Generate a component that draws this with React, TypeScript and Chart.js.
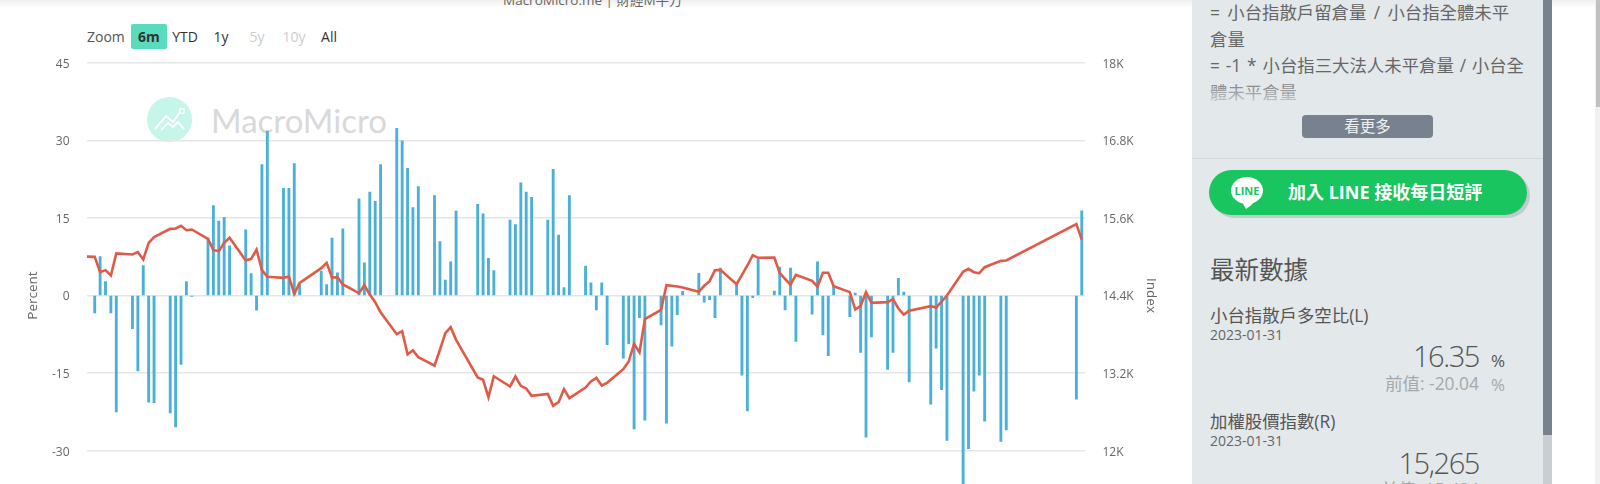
import React, { useEffect, useRef } from "react";
import { Chart, registerables } from "chart.js";

Chart.register(...registerables);

// Calendar days counted from 2022-07-31; last is 2023-01-31.
const barDays = [1,2,3,4,5,8,9,10,11,12,15,16,17,18,19,22,23,24,25,26,29,30,31,32,33,36,37,38,39,43,44,45,46,47,50,51,52,53,54,57,58,59,60,61,64,65,66,67,68,72,73,74,75,78,79,80,81,82,85,86,87,88,89,92,93,94,95,96,99,100,101,102,103,106,107,108,109,110,113,114,115,116,117,120,121,122,123,124,127,128,129,130,131,134,135,136,137,138,141,142,143,144,145,148,149,150,151,152,156,157,158,159,162,163,164,165,166,169,170,183,184];
const ratioPercent = [-3.35,7.5,2.7,-3.35,-22.5,-6.4,-14.6,5.8,-20.6,-20.7,-22.7,-25.4,-13.3,2.7,-0.2,11.1,17.4,14.4,15.1,9.6,12.7,4.25,-2.85,25.3,31.8,20.7,20.7,25.5,2.1,4.7,2.1,11.1,4.4,12.9,18.7,6.3,20,18.2,25.3,32.3,29.9,24.6,17,21.05,19.3,10.4,3,6.5,16.3,17.6,15.8,7.2,4.8,14.6,13.7,21.8,20,19,14.6,24.4,11.7,1.55,19.3,5.7,2.45,-2.8,2.45,-9.5,-12.1,-9.3,-25.8,-4.3,-24.1,-5.7,-24.7,-9.8,-3.7,0.8,4.3,-1.3,-0.8,-4.3,5.3,2.05,-15.4,-22.3,-0.4,7,0.85,5.5,-2.8,5.3,-8.9,-3.6,6.5,-7.6,-11.65,1.9,-4.1,0.45,-11,-27.4,-8,-14.3,-11,3.3,0.65,-16.7,-21,-10.2,-18.2,-28,-37,-29.6,-18.5,-15.4,-24.3,-28.2,-26,-20.04,16.35];

const lineDays = [-2,1,2,3,4,5,8,9,10,11,12,15,16,17,18,19,22,23,24,25,26,29,30,31,32,33,36,37,38,39,43,44,45,46,47,50,51,52,53,54,57,58,59,60,61,64,65,66,67,68,72,73,74,75,78,79,80,81,82,85,86,87,88,89,92,93,94,95,96,99,100,101,102,103,106,107,108,109,110,113,114,115,116,117,120,121,122,123,124,127,128,129,130,131,134,135,136,137,138,141,142,143,144,145,148,149,150,151,152,156,157,158,159,162,163,164,165,166,169,170,183,184];
const taiexIndex = [15003,14998,14761,14792,14710,15050,15034,15070,14957,15214,15302,15431,15436,15477,15410,15421,15276,15101,15086,15214,15292,14941,14967,15111,14792,14689,14673,14694,14426,14596,14823,14905,14678,14684,14570,14436,14560,14415,14297,14142,13802,13848,13490,13552,13446,13317,13560,13817,13910,13714,13132,13096,12828,13152,12993,13147,13003,12962,12848,12879,12694,12750,12951,12812,12977,13070,13127,13008,13049,13261,13379,13653,13519,14034,14178,14560,14550,14540,14524,14457,14550,14622,14792,14797,14575,14720,14864,15024,14983,14988,14750,14655,14568,14720,14627,14539,14751,14751,14544,14452,14183,14240,14452,14287,14297,14343,14199,14106,14163,14235,14214,14307,14400,14766,14812,14761,14745,14838,14936,14941,15503,15265];

const leftTicks = [45, 30, 15, 0, -15, -30, -45];
const rightTicks = ["18K", "16.8K", "15.6K", "14.4K", "13.2K", "12K", "10.8K"];
const rangeButtons = [
  { label: "6m", x: 131, w: 36, active: true, off: false },
  { label: "YTD", x: 168, w: 34, active: false, off: false },
  { label: "1y", x: 207, w: 28, active: false, off: false },
  { label: "5y", x: 243, w: 28, active: false, off: true },
  { label: "10y", x: 279, w: 30, active: false, off: true },
  { label: "All", x: 315, w: 28, active: false, off: false },
];

const SANS = '"Open Sans", "Noto Sans CJK TC", sans-serif';

function T({ x, y, size, color, children, weight, right, spacing, word, family }: any) {
  const style: React.CSSProperties = {
    position: "absolute",
    top: y,
    fontSize: size,
    lineHeight: "1",
    transform: "translateY(-50%)",
    color,
    fontFamily: family ?? SANS,
    fontWeight: weight ?? 400,
    whiteSpace: "nowrap",
    letterSpacing: spacing,
    wordSpacing: word,
  };
  if (right !== undefined) style.right = 1600 - right;
  else style.left = x;
  return <div style={style}>{children}</div>;
}

export default function App() {
  const ref = useRef<HTMLCanvasElement | null>(null);
  useEffect(() => {
    document.body.style.margin = "0";
    document.body.style.overflow = "hidden";
    const chart = new Chart(ref.current!, {
      type: "bar",
      data: {
        datasets: [
          {
            type: "line",
            label: "加權股價指數(R)",
            data: lineDays.map((d, i) => ({ x: d, y: taiexIndex[i] })),
            yAxisID: "yR",
            borderColor: "#e05a47",
            borderWidth: 2.6,
            pointRadius: 0,
            tension: 0,
            order: 0,
          } as any,
          {
            type: "bar",
            label: "小台指散戶多空比(L)",
            data: barDays.map((d, i) => ({ x: d, y: ratioPercent[i] })),
            yAxisID: "yL",
            backgroundColor: "#4bb0d8",
            barThickness: 2.2,
            order: 1,
          } as any,
        ],
      },
      options: {
        responsive: false,
        animation: false,
        events: [],
        layout: { padding: { top: 62.7, bottom: 31.7 } },
        plugins: { legend: { display: false }, tooltip: { enabled: false } },
        scales: {
          x: { type: "linear", min: -0.43, max: 184.6, display: false, offset: false },
          yL: {
            position: "left",
            min: -45,
            max: 45,
            afterFit: (s: any) => { s.width = 87; },
            afterBuildTicks: (s: any) => { s.ticks = leftTicks.map((v) => ({ value: v })); },
            grid: { color: "#e6e6e6", lineWidth: 1.4, drawTicks: false },
            border: { display: false },
            ticks: { padding: 17.5, labelOffset: 1.5, color: "#666666", font: { family: SANS, size: 12 } },
            title: { display: true, text: "Percent", color: "#666666", font: { family: SANS, size: 13.5 }, padding: { top: 25, bottom: 0 } },
          },
          yR: {
            position: "right",
            min: 10800,
            max: 18000,
            afterFit: (s: any) => { s.width = 105; },
            afterBuildTicks: (s: any) => {
              s.ticks = rightTicks.map((_, i) => ({ value: 18000 - 1200 * i }));
            },
            grid: { display: false, drawTicks: false },
            border: { display: false },
            ticks: {
              padding: 17.5,
              labelOffset: 1.5,
              color: "#666666",
              font: { family: SANS, size: 12 },
              callback: (_v: any, i: number) => rightTicks[i],
            },
            title: { display: true, text: "Index", color: "#666666", font: { family: SANS, size: 13.5 }, padding: { top: 31, bottom: 0 } },
          },
        },
      } as any,
    });
    return () => chart.destroy();
  }, []);

  return (
    <div style={{ position: "fixed", left: 0, top: 0, width: 1600, height: 484, overflow: "hidden", background: "#fff" }}>
      {/* top shadow and clipped subtitle */}
      <div style={{ position: "absolute", left: 0, top: 0, width: 1600, height: 8, background: "linear-gradient(#efefef, #ffffff)" }} />
      <T x={503} y={1} size={13.5} color="#666">MacroMicro.me | 財經M平方</T>

      {/* watermark */}
      <svg style={{ position: "absolute", left: 147, top: 97 }} width="45" height="45" viewBox="0 0 45 45">
        <circle cx="22.5" cy="22.5" r="22.5" fill="#c6f5e9" />
        <path d="M8 32 L19 19 L26 25 L33 15 M14 33 L21 26 L26 30 L31 25 L37 32" fill="none" stroke="#fff" strokeWidth="2" />
        <circle cx="35" cy="14" r="2.4" fill="none" stroke="#fff" strokeWidth="1.5" />
      </svg>
      <T x={211} y={120} size={33} color="#d9d9d9" family="Lato">MacroMicro</T>

      {/* range selector */}
      <T x={87} y={37} size={14} color="#555">Zoom</T>
      {rangeButtons.map((b) => (
        <div
          key={b.label}
          style={{
            position: "absolute",
            left: b.x,
            top: 24,
            width: b.w,
            height: 25,
            lineHeight: "25px",
            textAlign: "center",
            fontFamily: SANS,
            fontSize: 14,
            fontWeight: b.active ? 700 : 400,
            borderRadius: 2,
            background: b.active ? "#59dcbd" : "transparent",
            color: b.off ? "#cccccc" : "#333333",
          }}
        >
          {b.label}
        </div>
      ))}

      <canvas ref={ref} width={1190} height={560} style={{ position: "absolute", left: 0, top: 0 }} />

      {/* side panel */}
      <div style={{ position: "absolute", left: 1192, top: 0, width: 351, height: 484, background: "#e3e8eb" }} />
      <T x={1210} y={13} size={17.4} color="#666" word={2.8}>= 小台指散戶留倉量 / 小台指全體未平</T>
      <T x={1210} y={40} size={17.4} color="#666">倉量</T>
      <T x={1210} y={66} size={17.4} color="#666" word={1.3}>= -1 * 小台指三大法人未平倉量 / 小台全</T>
      <T x={1210} y={93} size={17.4} color="#666">體未平倉量</T>
      <div style={{ position: "absolute", left: 1192, top: 76, width: 351, height: 30, background: "linear-gradient(rgba(227,232,235,0), rgba(227,232,235,0.85))" }} />
      <div style={{ position: "absolute", left: 1302, top: 115, width: 131, height: 23, background: "#78828e", borderRadius: 4, color: "#eef0f2", fontFamily: SANS, fontSize: 15.5, lineHeight: "23px", textAlign: "center" }}>看更多</div>
      <div style={{ position: "absolute", left: 1192, top: 158, width: 351, height: 1, background: "#d4d9dc" }} />
      <div style={{ position: "absolute", left: 1209, top: 170, width: 318, height: 45, background: "#19c55e", borderRadius: 23, boxShadow: "3px 3px 0 #c3c9cd" }} />
      <svg style={{ position: "absolute", left: 1230, top: 176 }} width="34" height="34" viewBox="0 0 34 34">
        <ellipse cx="17" cy="14.5" rx="16" ry="13.5" fill="#fff" />
        <path d="M12 26 L16 33 Q21 30 25 25 Z" fill="#fff" />
        <text x="17" y="18.5" textAnchor="middle" fontFamily="Open Sans" fontSize="11" fontWeight="700" fill="#19c55e">LINE</text>
      </svg>
      <T x={1288} y={192} size={18} color="#fff" weight={700}>加入 LINE 接收每日短評</T>
      <T x={1210} y={270} size={24.5} color="#555">最新數據</T>
      <T x={1210} y={316} size={17.4} color="#555">小台指散戶多空比(L)</T>
      <T x={1210} y={335} size={14} color="#666">2023-01-31</T>
      <T right={1479} y={355} size={29} color="#555" weight={300} spacing={-1.4}>16.35</T>
      <T x={1491} y={360} size={17} color="#555">%</T>
      <T right={1479} y={384} size={17.4} color="#a3a8ac">前值: -20.04</T>
      <T x={1491} y={384} size={17} color="#a3a8ac">%</T>
      <T x={1210} y={422} size={17.4} color="#555">加權股價指數(R)</T>
      <T x={1210} y={441} size={14} color="#666">2023-01-31</T>
      <T right={1479} y={462} size={29} color="#555" weight={300} spacing={-1.4}>15,265</T>
      <T right={1479} y={490} size={17.4} color="#a3a8ac">前值: 15,484</T>

      {/* panel scrollbar */}
      <div style={{ position: "absolute", left: 1543, top: 0, width: 9, height: 435, background: "#78828e" }} />
      <div style={{ position: "absolute", left: 1543, top: 435, width: 9, height: 49, background: "#c8ced2" }} />
      {/* page scrollbar */}
      <div style={{ position: "absolute", left: 1595, top: 0, width: 5, height: 484, background: "#f1f1f1" }} />
      <div style={{ position: "absolute", left: 1596, top: 0, width: 4, height: 107, background: "#c1c1c1" }} />
    </div>
  );
}
